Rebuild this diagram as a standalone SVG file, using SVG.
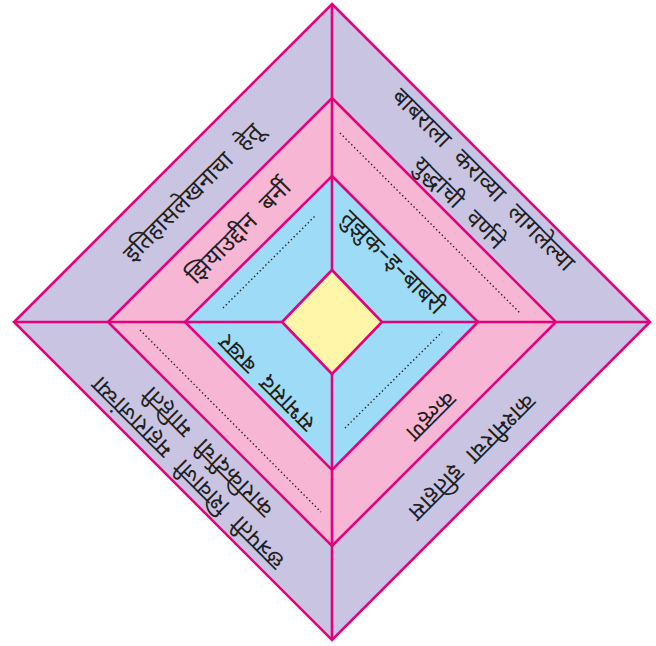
<svg xmlns="http://www.w3.org/2000/svg" width="656" height="646" viewBox="0 0 656 646">
<style>
.edge{stroke:#e5007e;stroke-width:2.6;stroke-linejoin:miter}
.dot{stroke:#222;stroke-width:1.4;stroke-dasharray:1.4 2.6;fill:none}
.t{font-family:"Noto Sans Devanagari","Lohit Devanagari","Noto Sans",sans-serif;font-size:24px;fill:#231f20;text-anchor:middle;word-spacing:8px}
</style>
<rect width="656" height="646" fill="#ffffff"/>
<g id="outer-diamond"><polygon class="edge" points="332,4 650,322 332,640 14,322" fill="#c9c4e2"/></g>
<g id="pink-diamond"><polygon class="edge" points="332,98 556,322 332,546 108,322" fill="#f7b6d3"/></g>
<g id="blue-diamond"><polygon class="edge" points="332,176 478,322 332,470 185,322" fill="#9ddbf6"/></g>
<g id="connectors">
<line class="edge" x1="332" y1="4" x2="332" y2="640"/>
<line class="edge" x1="14" y1="322" x2="650" y2="322"/>
</g>
<g id="center-diamond"><polygon class="edge" points="332,270 382,322 332,374 282,322" fill="#fff6aa"/></g>
<g id="blanks">
<line class="dot" x1="223" y1="308" x2="316" y2="215"/>
<line class="dot" x1="340" y1="133" x2="521" y2="314"/>
<line class="dot" x1="345" y1="428" x2="442" y2="332"/>
<line class="dot" x1="140" y1="330" x2="321" y2="512"/>
</g>
<g id="top-left">
<text class="t" transform="translate(192.5,192.5) rotate(-45)" y="8">इतिहासलेखनाचा हेतू</text>
<text class="t" transform="translate(238.5,231.5) rotate(-45)" y="8">झियाउद्दीन बर्नी</text>
</g>
<g id="top-right">
<text class="t" transform="translate(483.5,179.5) rotate(45)" y="8">बाबराला कराव्या लागलेल्या</text>
<text class="t" transform="translate(459,203) rotate(45)" y="8">युद्धांची वर्णने</text>
<text class="t" transform="translate(393,262) rotate(45)" y="8">तुझुक–इ–बाबरी</text>
</g>
<g id="bottom-right">
<text class="t" transform="translate(431,416) rotate(135)" y="8">कल्हण</text>
<text class="t" transform="translate(472,457) rotate(135)" y="8">काश्मीरचा इतिहास</text>
</g>
<g id="bottom-left">
<text class="t" transform="translate(267,383) rotate(-135)" y="8">सभासद बखर</text>
<text class="t" transform="translate(188,473) rotate(-135)" y="8">छत्रपती शिवाजी महाराजांच्या</text>
<text class="t" transform="translate(208,452) rotate(-135)" y="8">कारकिर्दीची माहिती</text>
</g>
</svg>
